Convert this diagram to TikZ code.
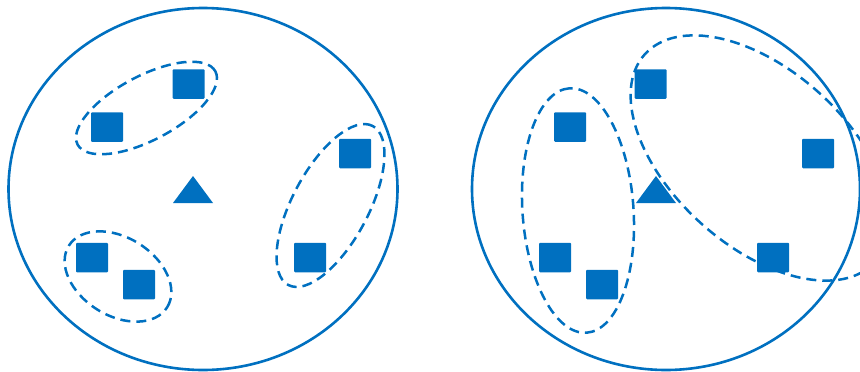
\documentclass[tikz,border=0pt]{standalone}
\definecolor{kblue}{HTML}{0070C0}
\begin{document}
\begin{tikzpicture}[x=1pt,y=-1pt,
  outer/.style={draw=kblue,line width=2.6pt},
  grp/.style={draw=kblue,line width=2.5pt,dash pattern=on 10pt off 6pt},
  sq/.style={fill=kblue,draw=none,minimum width=32pt,minimum height=29.5pt,inner sep=0pt,rounded corners=1pt},
  tri/.style={fill=kblue}]
\useasboundingbox (0,0) rectangle (860,372);
\clip (0,0) rectangle (860,372);
% left panel
\draw[outer] (203,189) ellipse [x radius=194.5pt, y radius=181pt];
\node[sq] (a1) at (188.5,84) {};
\node[sq] (a2) at (107,127) {};
\node[sq] (a3) at (355,153.5) {};
\node[sq] (a4) at (92,257.5) {};
\node[sq] (a5) at (139,284.5) {};
\node[sq] (a6) at (310,257.5) {};
\coordinate (ta1) at (173,203);
\coordinate (ta2) at (193,176);
\coordinate (ta3) at (213,203);
\fill[tri] (ta1) -- (ta2) -- (ta3) -- cycle;
\draw[grp, rotate around={28:(146.5,108)}] (146.5,108) ellipse [x radius=78pt, y radius=32pt];
\draw[grp, rotate around={62:(330.5,205.5)}] (330.5,205.5) ellipse [x radius=90pt, y radius=38pt];
\draw[grp, rotate around={-32:(118,276.5)}] (118,276.5) ellipse [x radius=58pt, y radius=39pt];
% right panel
\draw[outer] (666,189) ellipse [x radius=194pt, y radius=181pt];
\node[sq] (b1) at (650.5,84) {};
\node[sq] (b2) at (570,127) {};
\node[sq] (b3) at (818,153.5) {};
\node[sq] (b4) at (555,257.5) {};
\node[sq] (b5) at (602,284.5) {};
\node[sq] (b6) at (773,257.5) {};
\coordinate (tb1) at (636,203);
\coordinate (tb2) at (656,176);
\coordinate (tb3) at (676,203);
\fill[tri] (tb1) -- (tb2) -- (tb3) -- cycle;
\draw[grp, rotate around={94:(578,210.5)}] (578,210.5) ellipse [x radius=122.5pt, y radius=55.5pt];
\draw[grp, rotate around={-42:(760,158)}] (760,158) ellipse [x radius=155pt, y radius=88pt];
\end{tikzpicture}
\end{document}
